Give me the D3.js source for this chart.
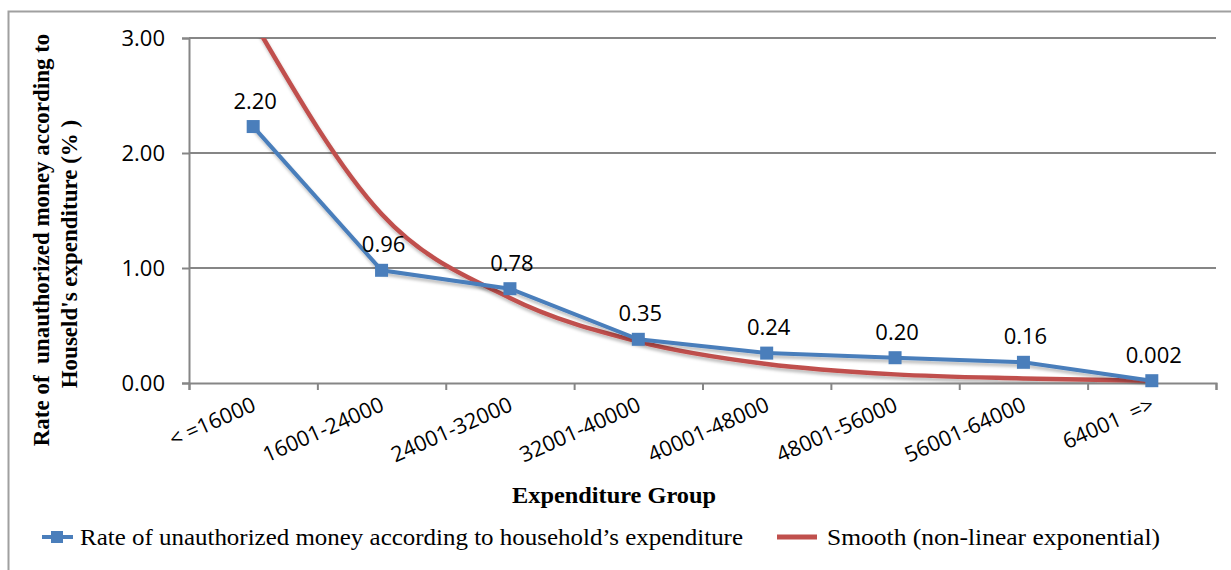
<!DOCTYPE html>
<html>
<head>
<meta charset="utf-8">
<script src="https://cdn.jsdelivr.net/npm/d3@7"></script>
<style>
    body { margin: 0; background: #fff; }
    svg { display: block; }
</style>
</head>
<body>
<div id="chart"></div>
<script>
const categories = ['< =16000', '16001-24000', '24001-32000', '32001-40000',
    '40001-48000', '48001-56000', '56001-64000', '64001  =>']
const rate_values = [2.23, 0.98, 0.82, 0.38, 0.26, 0.22, 0.18, 0.02]
const rate_labels = ['2.20', '0.96', '0.78', '0.35', '0.24', '0.20', '0.16', '0.002']
const smooth_values = [3.15, 1.47, 0.74, 0.36, 0.165, 0.075, 0.04, 0.02]
const y_ticks = [0, 1, 2, 3]
const legend_names = ['Rate of\u00a0unauthorized money according to household\u2019s expenditure',
    'Smooth (non-linear exponential)']

function draw_chart() {
    const width = 1231, height = 570
    const plot = {'left': 189, 'right': 1216, 'top': 38, 'bottom': 383}
    const blue = '#4a7ebb', red = '#c0504d', grid = '#868686'
    const num_font = '"Open Sans", sans-serif'
    const serif = '"Liberation Serif", "Times New Roman", serif'

    const svg = d3.select('#chart').append('svg')
        .attr('width', width).attr('height', height)

    const defs = svg.append('defs')
    defs.append('clipPath').attr('id', 'plot-clip').append('rect')
        .attr('x', plot.left).attr('y', plot.top)
        .attr('width', plot.right - plot.left).attr('height', plot.bottom - plot.top)
    const shadow = defs.append('filter').attr('id', 'shadow')
        .attr('x', '-5%').attr('y', '-5%').attr('width', '110%').attr('height', '120%')
    shadow.append('feDropShadow').attr('dx', 1).attr('dy', 3).attr('stdDeviation', 1.5)
        .attr('flood-color', '#000').attr('flood-opacity', 0.25)

    // outer frame (runs off the right and bottom of the picture)
    svg.append('rect').attr('x', 8.5).attr('y', 11.5).attr('width', 1240).attr('height', 580)
        .attr('fill', 'none').attr('stroke', '#a0a0a0').attr('stroke-width', 2)

    const x = d3.scaleBand().domain(categories).range([plot.left, plot.right])
    const xb = d3.scaleLinear().domain([0, categories.length]).range([plot.left, plot.right])
    const y = d3.scaleLinear().domain([0, 3]).range([plot.bottom, plot.top])
    const cx = (d) => x(d) + x.bandwidth() / 2

    // gridlines
    svg.append('g').selectAll('line').data(y_ticks.filter((d) => d > 0)).join('line')
        .attr('x1', plot.left).attr('x2', plot.right)
        .attr('y1', (d) => y(d)).attr('y2', (d) => y(d))
        .attr('stroke', grid).attr('stroke-width', 2)

    // y axis
    const y_axis = svg.append('g').attr('transform', `translate(${plot.left},0)`)
        .call(d3.axisLeft(y).tickValues(y_ticks).tickFormat(d3.format('.2f')).tickSize(7).tickPadding(17))
    y_axis.select('.domain').attr('stroke', grid).attr('stroke-width', 2)
    y_axis.selectAll('.tick line').attr('stroke', grid).attr('stroke-width', 2)
    y_axis.selectAll('.tick text').attr('font-family', num_font).attr('font-size', 22).attr('fill', '#000')

    // x axis: ticks at band edges, labels at band centres
    const x_axis = svg.append('g').attr('transform', `translate(0,${plot.bottom})`)
        .call(d3.axisBottom(xb).tickValues(d3.range(categories.length + 1)).tickFormat('').tickSize(7))
    x_axis.select('.domain').attr('stroke', grid).attr('stroke-width', 2)
    x_axis.selectAll('.tick line').attr('stroke', grid).attr('stroke-width', 2)

    svg.append('g').selectAll('text').data(categories).join('text')
        .attr('transform', (d) => `translate(${cx(d) + 4},${plot.bottom + 27}) rotate(-24)`)
        .attr('text-anchor', 'end')
        .style('white-space', 'pre')
        .attr('font-family', num_font).attr('font-size', 21.5).attr('fill', '#000')
        .text((d) => d)

    // smooth exponential curve
    const smooth_line = d3.line().x((d, i) => cx(categories[i])).y((d) => y(d)).curve(d3.curveMonotoneX)
    svg.append('g').attr('clip-path', 'url(#plot-clip)').append('path')
        .datum(smooth_values)
        .attr('d', smooth_line)
        .attr('fill', 'none').attr('stroke', red).attr('stroke-width', 4.5)
        .attr('filter', 'url(#shadow)')

    // rate series
    const rate_line = d3.line().x((d, i) => cx(categories[i])).y((d) => y(d))
    svg.append('path').datum(rate_values)
        .attr('d', rate_line)
        .attr('fill', 'none').attr('stroke', blue).attr('stroke-width', 4)
        .attr('filter', 'url(#shadow)')

    svg.append('g').selectAll('rect').data(rate_values).join('rect')
        .attr('x', (d, i) => cx(categories[i]) - 6.5)
        .attr('y', (d) => y(d) - 6.5)
        .attr('width', 13).attr('height', 13)
        .attr('fill', blue)

    svg.append('g').selectAll('text').data(rate_values).join('text')
        .attr('x', (d, i) => cx(categories[i]) + 2)
        .attr('y', (d) => y(d) - 18)
        .attr('text-anchor', 'middle')
        .attr('font-family', num_font).attr('font-size', 22).attr('fill', '#000')
        .text((d, i) => rate_labels[i])

    // axis titles
    const y_title = svg.append('text')
        .attr('transform', 'translate(49,240) rotate(-90)')
        .attr('text-anchor', 'middle')
        .attr('font-family', serif).attr('font-weight', 'bold').attr('font-size', 23).attr('fill', '#000')
    y_title.append('tspan').attr('x', 0).attr('y', 0).text('Rate of  unauthorized money according to')
        .style('white-space', 'pre')
    y_title.append('tspan').attr('x', -14).attr('y', 28).text("Houseld's expenditure (% )")
        .style('white-space', 'pre')

    svg.append('text').attr('x', 614).attr('y', 503)
        .attr('text-anchor', 'middle')
        .attr('font-family', serif).attr('font-weight', 'bold').attr('font-size', 23).attr('fill', '#000')
        .attr('textLength', 204).attr('lengthAdjust', 'spacingAndGlyphs')
        .text('Expenditure Group')

    // legend
    const legend_y = 537
    svg.append('line').attr('x1', 42).attr('x2', 73).attr('y1', legend_y).attr('y2', legend_y)
        .attr('stroke', blue).attr('stroke-width', 4)
    svg.append('rect').attr('x', 51).attr('y', legend_y - 6).attr('width', 12).attr('height', 12)
        .attr('fill', blue)
    svg.append('line').attr('x1', 777).attr('x2', 817).attr('y1', legend_y).attr('y2', legend_y)
        .attr('stroke', red).attr('stroke-width', 5)

    svg.append('g').selectAll('text').data(legend_names).join('text')
        .attr('x', (d, i) => i === 0 ? 80 : 827)
        .attr('y', legend_y + 8)
        .attr('font-family', serif).attr('font-size', 23).attr('fill', '#000')
        .attr('textLength', (d, i) => i === 0 ? 663 : 333).attr('lengthAdjust', 'spacingAndGlyphs')
        .text((d) => d)
}

draw_chart()
</script>
</body>
</html>
